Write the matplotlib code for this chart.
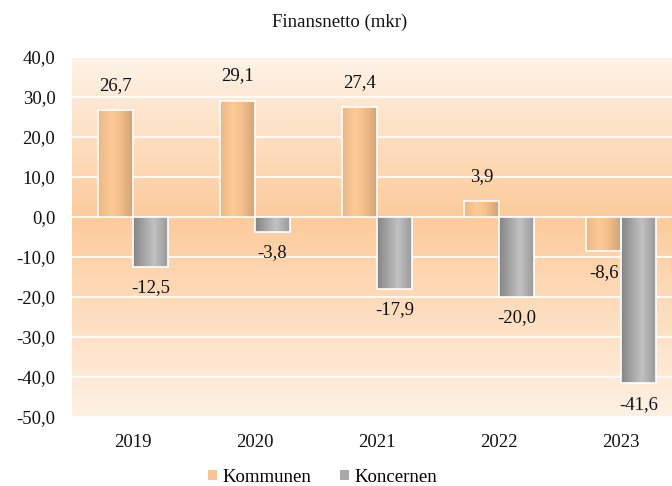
import numpy as np
import matplotlib
matplotlib.use("Agg")
import matplotlib.pyplot as plt
from matplotlib.colors import LinearSegmentedColormap
from matplotlib.patches import Rectangle, Patch

plt.rcParams['font.family'] = ['Liberation Serif', 'DejaVu Serif']

years = ['2019', '2020', '2021', '2022', '2023']
kommunen = [26.7, 29.1, 27.4, 3.9, -8.6]
koncernen = [-12.5, -3.8, -17.9, -20.0, -41.6]
series_names = ['Kommunen', 'Koncernen']
yticks = [40, 30, 20, 10, 0, -10, -20, -30, -40, -50]

W, H = 672, 486
FS = 13.5
TXT = '#111111'
fig = plt.figure(figsize=(W / 100, H / 100), dpi=100)
ax = fig.add_axes([72 / W, 1 - 417 / H, 610 / W, 360 / H])
ax.set_xlim(-0.5, 4.5)
ax.set_ylim(-50, 40)

# background gradient (light at top/bottom, peach at zero)
bg = LinearSegmentedColormap.from_list(
    'bg', [(0.0, '#fef1e4'), (50 / 90, '#fdcb9c'), (1.0, '#fef3e8')])
grad = np.linspace(0, 1, 256).reshape(-1, 1)
ax.imshow(grad, cmap=bg, aspect='auto', extent=(-0.5, 4.5, -50, 40),
          origin='lower', zorder=0, interpolation='bilinear')

for t in yticks:
    ax.axhline(t, color='white', lw=1.3, zorder=1)

orange_cm = LinearSegmentedColormap.from_list(
    'o', [(0, '#e9b887'), (0.35, '#fdca96'), (0.6, '#f6c18d'), (1, '#d4a477')])
grey_cm = LinearSegmentedColormap.from_list(
    'g', [(0, '#858585'), (0.6, '#c2c2c2'), (1, '#9a9a9a')])
hgrad = np.linspace(0, 1, 64).reshape(1, -1)

width = 0.285
off = 0.1425
x = np.arange(len(years))


def grad_bars(xs, vals, cmap):
    bars = ax.bar(xs, vals, width, facecolor='none', edgecolor='white',
                  linewidth=1.2, zorder=3)
    for b in bars:
        x0, y0 = b.get_x(), b.get_y()
        w, h = b.get_width(), b.get_height()
        im = ax.imshow(hgrad, cmap=cmap, aspect='auto',
                       extent=(x0, x0 + w, min(y0, y0 + h), max(y0, y0 + h)),
                       zorder=2, interpolation='bilinear')
        clip = Rectangle((x0, y0), w, h, transform=ax.transData)
        im.set_clip_path(clip)
    return bars


grad_bars(x - off, kommunen, orange_cm)
grad_bars(x + off, koncernen, grey_cm)

def fmt(v):
    return f"{v:.1f}".replace('.', ',')

for xs, vals in ((x - off, kommunen), (x + off, koncernen)):
    for xi, v in zip(xs, vals):
        dy = 18 if v >= 0 else -15
        ax.annotate(fmt(v), (xi, v), xytext=(0, dy), textcoords='offset points',
                    ha='center', va='center', fontsize=FS, color=TXT,
                    zorder=5)

ax.set_xticks(x)
ax.set_xticklabels(years, fontsize=FS, color=TXT)
ax.set_yticks(yticks)
ax.set_yticklabels([fmt(t) for t in yticks], fontsize=FS, color=TXT)
ax.tick_params(length=0)
ax.tick_params(axis='x', pad=12)
ax.tick_params(axis='y', pad=12)
for s in ax.spines.values():
    s.set_visible(False)

fig.text(0.505, 1 - 22 / H, 'Finansnetto (mkr)', ha='center', va='center',
         fontsize=FS, color=TXT)

handles = [Patch(facecolor='#f7c596', edgecolor='none'),
           Patch(facecolor='#a9a9a9', edgecolor='none')]
fig.legend(handles, series_names, loc='center', bbox_to_anchor=(0.48, 1 - 477 / H),
           ncol=2, frameon=False, fontsize=FS, handlelength=0.5, handleheight=0.5,
           handletextpad=0.3, columnspacing=1.5, borderaxespad=0, borderpad=0.1)

fig.savefig('out.png', dpi=100)
